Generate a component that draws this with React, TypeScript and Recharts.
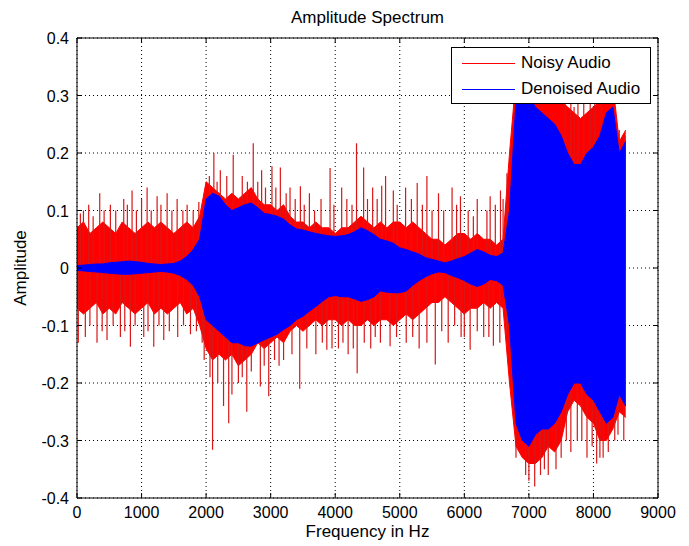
import React from "react";
import {
  ComposedChart,
  Area,
  Line,
  XAxis,
  YAxis,
  CartesianGrid,
  ReferenceArea,
} from "recharts";

// frequency grid of the envelopes (Hz)
const freqs = [
  0, 100, 200, 300, 400, 500, 600, 700, 800, 900,
  1000, 1100, 1200, 1300, 1400, 1500, 1600, 1700, 1800, 1900,
  2000, 2100, 2200, 2300, 2400, 2500, 2600, 2700, 2800, 2900,
  3000, 3100, 3200, 3300, 3400, 3500, 3600, 3700, 3800, 3900,
  4000, 4100, 4200, 4300, 4400, 4500, 4600, 4700, 4800, 4900,
  5000, 5100, 5200, 5300, 5400, 5500, 5600, 5700, 5800, 5900,
  6000, 6100, 6200, 6300, 6400, 6500, 6600, 6700, 6800, 6900,
  7000, 7100, 7200, 7300, 7400, 7500, 7600, 7700, 7800, 7900,
  8000, 8100, 8200, 8300, 8400, 8500,
];

// noisy audio: dense band top / bottom
const noisyHi = [
  0.07, 0.08, 0.06, 0.07, 0.08, 0.07, 0.06, 0.08, 0.07, 0.06,
  0.07, 0.08, 0.07, 0.08, 0.07, 0.06, 0.07, 0.08, 0.07, 0.09,
  0.15, 0.14, 0.13, 0.12, 0.13, 0.12, 0.13, 0.14, 0.12, 0.11,
  0.11, 0.1, 0.11, 0.09, 0.08, 0.08, 0.07, 0.08, 0.07, 0.07,
  0.06, 0.07, 0.07, 0.08, 0.09, 0.08, 0.07, 0.08, 0.07, 0.08,
  0.08, 0.07, 0.08, 0.07, 0.06, 0.05, 0.05, 0.04, 0.05, 0.06,
  0.06, 0.05, 0.06, 0.05, 0.05, 0.04, 0.05, 0.2, 0.33, 0.34,
  0.33, 0.35, 0.33, 0.32, 0.3, 0.29, 0.28, 0.27, 0.26, 0.27,
  0.28, 0.29, 0.33, 0.32, 0.22, 0.24,
];
const noisyLo = [
  -0.07, -0.08, -0.07, -0.06, -0.08, -0.07, -0.08, -0.06, -0.07, -0.08,
  -0.07, -0.06, -0.08, -0.07, -0.08, -0.07, -0.06, -0.08, -0.07, -0.1,
  -0.14, -0.16, -0.15, -0.16, -0.15, -0.17, -0.16, -0.15, -0.13, -0.14,
  -0.13, -0.12, -0.13, -0.11, -0.1, -0.11, -0.1, -0.09, -0.1, -0.09,
  -0.09, -0.1, -0.09, -0.1, -0.1, -0.09, -0.1, -0.09, -0.09, -0.1,
  -0.09, -0.08, -0.09, -0.08, -0.07, -0.06, -0.06, -0.05, -0.06, -0.07,
  -0.08, -0.07, -0.07, -0.06, -0.07, -0.06, -0.07, -0.2, -0.31, -0.33,
  -0.34, -0.34, -0.33, -0.31, -0.32, -0.3, -0.25, -0.23, -0.24, -0.26,
  -0.27, -0.3, -0.3, -0.28, -0.25, -0.26,
];

// denoised audio: band top / bottom
const denoisedHi = [
  0.004, 0.005, 0.006, 0.007, 0.007, 0.009, 0.01, 0.011, 0.012, 0.011,
  0.01, 0.008, 0.007, 0.006, 0.007, 0.008, 0.012, 0.02, 0.032, 0.05,
  0.12, 0.13, 0.125, 0.11, 0.1, 0.105, 0.11, 0.113, 0.105, 0.095,
  0.093, 0.09, 0.085, 0.075, 0.068, 0.066, 0.063, 0.06, 0.058, 0.056,
  0.055, 0.056, 0.058, 0.063, 0.07, 0.065, 0.058, 0.05, 0.047, 0.043,
  0.035, 0.032, 0.028, 0.024, 0.018, 0.015, 0.012, 0.009, 0.012, 0.016,
  0.02, 0.026, 0.032, 0.028, 0.022, 0.02, 0.026, 0.1, 0.29, 0.3,
  0.3, 0.28, 0.27, 0.26, 0.25, 0.23, 0.2, 0.18, 0.18, 0.2,
  0.21, 0.23, 0.27, 0.28, 0.2, 0.22,
];
const denoisedLo = [
  -0.004, -0.005, -0.006, -0.007, -0.008, -0.009, -0.01, -0.011, -0.011, -0.01,
  -0.009, -0.008, -0.007, -0.006, -0.007, -0.009, -0.013, -0.02, -0.03, -0.05,
  -0.09, -0.1, -0.11, -0.12, -0.13, -0.13, -0.135, -0.136, -0.13, -0.125,
  -0.12, -0.115, -0.107, -0.1, -0.09, -0.084, -0.075, -0.067, -0.058, -0.05,
  -0.048, -0.05, -0.05, -0.054, -0.058, -0.055, -0.05, -0.04, -0.042, -0.043,
  -0.043, -0.04, -0.03, -0.022, -0.015, -0.01, -0.007, -0.008, -0.013, -0.017,
  -0.022, -0.028, -0.032, -0.028, -0.02, -0.022, -0.03, -0.1, -0.27, -0.3,
  -0.31, -0.29, -0.28, -0.28, -0.27, -0.25, -0.22, -0.2, -0.2, -0.22,
  -0.23, -0.25, -0.27, -0.26, -0.22, -0.24,
];

// isolated noisy peaks above the band
const upperSpikeFreqs = [
  52, 100, 181, 250, 352, 420, 517, 600, 724, 780, 853, 920, 1000, 1086,
  1150, 1241, 1300, 1396, 1470, 1551, 1640, 1706, 1800, 1887,
  2050, 2120, 2170, 2220, 2320, 2420, 2560, 2640, 2730, 2800, 2860, 2920,
  3020, 3080, 3150, 3240, 3300, 3380, 3460, 3520, 3600, 3680, 3780, 3920,
  3980, 4100, 4180, 4260, 4330, 4440, 4500, 4580, 4650, 4720, 4780, 4900,
  4960, 5090, 5180, 5270, 5350, 5420, 5500, 5600, 5680, 5810, 5880, 5940,
  6060, 6140, 6200, 6350, 6400, 6480, 6560, 6600, 6660,
  7560, 7650, 7700, 7760, 7850, 7950, 8020, 8120, 8400, 8490,
];
const upperSpikeValues = [
  0.095, 0.1, 0.11, 0.09, 0.13, 0.1, 0.11, 0.1, 0.12, 0.11, 0.135, 0.1, 0.12, 0.14,
  0.1, 0.125, 0.11, 0.13, 0.1, 0.12, 0.1, 0.11, 0.1, 0.115,
  0.16, 0.2, 0.15, 0.17, 0.16, 0.197, 0.16, 0.15, 0.217, 0.15, 0.17, 0.14,
  0.177, 0.14, 0.175, 0.13, 0.14, 0.12, 0.142, 0.11, 0.13, 0.1, 0.12, 0.174,
  0.11, 0.14, 0.12, 0.11, 0.217, 0.175, 0.12, 0.14, 0.12, 0.143, 0.16, 0.135,
  0.11, 0.14, 0.12, 0.148, 0.11, 0.16, 0.1, 0.13, 0.1, 0.14, 0.11, 0.125,
  0.1, 0.09, 0.12, 0.1, 0.125, 0.11, 0.135, 0.12, 0.165,
  0.29, 0.3, 0.28, 0.29, 0.29, 0.31, 0.3, 0.3, 0.24, 0.23,
];

// isolated noisy peaks below the band
const lowerSpikeFreqs = [
  20, 129, 200, 310, 390, 465, 560, 672, 740, 827, 900, 1034, 1100, 1189,
  1270, 1344, 1430, 1560, 1650, 1758, 1850, 1939, 1970,
  2060, 2100, 2180, 2270, 2350, 2400, 2500, 2560, 2630, 2700, 2840, 2900,
  2970, 3060, 3130, 3200, 3330, 3450, 3560, 3700, 3800, 3870, 3950, 4050,
  4120, 4200, 4280, 4340, 4450, 4550, 4620, 4700, 4850, 4950, 5100, 5200,
  5300, 5420, 5550, 5650, 5750, 5850, 5950, 6000, 6090, 6200, 6300, 6380,
  6450, 6550, 6650,
  6800, 6950, 7000, 7090, 7180, 7240, 7300, 7420, 7500, 7580, 7650, 7750,
  7820, 7900, 7980, 8050, 8100, 8150, 8230, 8330, 8380, 8470,
];
const lowerSpikeValues = [
  -0.13, -0.12, -0.1, -0.13, -0.11, -0.125, -0.1, -0.12, -0.11, -0.137, -0.1, -0.12, -0.11, -0.137,
  -0.1, -0.125, -0.11, -0.12, -0.1, -0.115, -0.11, -0.13, -0.16,
  -0.19, -0.316, -0.2, -0.24, -0.27, -0.22, -0.2, -0.19, -0.25, -0.18, -0.206, -0.17,
  -0.223, -0.16, -0.17, -0.16, -0.15, -0.21, -0.14, -0.15, -0.13, -0.142, -0.14, -0.14,
  -0.13, -0.15, -0.14, -0.183, -0.13, -0.14, -0.12, -0.13, -0.136, -0.12, -0.13, -0.12,
  -0.14, -0.13, -0.168, -0.11, -0.13, -0.1, -0.12, -0.12, -0.142, -0.11, -0.12, -0.12,
  -0.135, -0.13, -0.11,
  -0.33, -0.36, -0.37, -0.38, -0.36, -0.35, -0.36, -0.35, -0.33, -0.3, -0.32, -0.3,
  -0.3, -0.33, -0.31, -0.34, -0.33, -0.33, -0.32, -0.3, -0.29, -0.3,
];

const xTicks = [0, 1000, 2000, 3000, 4000, 5000, 6000, 7000, 8000, 9000];
const yTicks = [-0.4, -0.3, -0.2, -0.1, 0, 0.1, 0.2, 0.3, 0.4];

const legendItems = [
  { label: "Noisy Audio", color: "#ff0000" },
  { label: "Denoised Audio", color: "#0000ff" },
];

const W = 689;
const H = 546;
const PLOT_TOP = 38;
const PLOT_BOTTOM = 498;
const PLOT_LEFT = 77;
const PLOT_RIGHT = 658;
const FONT = "'Liberation Sans', Arial, Helvetica, sans-serif";

type Row = {
  f: number;
  nHi?: number;
  nLo?: number;
  dHi?: number;
  dLo?: number;
  spk?: number;
};

const rows: Row[] = [];
freqs.forEach((f, i) =>
  rows.push({ f, nHi: noisyHi[i], nLo: noisyLo[i], dHi: denoisedHi[i], dLo: denoisedLo[i] })
);
// each peak becomes a vertical stroke out of the zero line and back
const addSpike = (f: number, v: number) => rows.push({ f, spk: 0 }, { f, spk: v }, { f, spk: 0 });
upperSpikeFreqs.forEach((f, i) => addSpike(f, upperSpikeValues[i]));
lowerSpikeFreqs.forEach((f, i) => addSpike(f, lowerSpikeValues[i]));
rows.sort((a, b) => a.f - b.f);

const noisyRange = (r: Row) => (r.nHi === undefined ? [null, null] : [r.nLo, r.nHi]);
const denoisedRange = (r: Row) => (r.dHi === undefined ? [null, null] : [r.dLo, r.dHi]);

function XTick(props: any) {
  const { x, y, payload } = props;
  return (
    <g>
      <line x1={x} x2={x} y1={PLOT_BOTTOM} y2={PLOT_BOTTOM - 5} stroke="#000" />
      <line x1={x} x2={x} y1={PLOT_TOP} y2={PLOT_TOP + 5} stroke="#000" />
      <text x={x} y={y} dy={20} textAnchor="middle" fontSize={16} fontFamily={FONT} fill="#000">
        {payload.value}
      </text>
    </g>
  );
}

function YTick(props: any) {
  const { x, y, payload } = props;
  return (
    <g>
      <line x1={PLOT_LEFT} x2={PLOT_LEFT + 5} y1={y} y2={y} stroke="#000" />
      <line x1={PLOT_RIGHT} x2={PLOT_RIGHT - 5} y1={y} y2={y} stroke="#000" />
      <text x={x} y={y} dx={-8} dy={6} textAnchor="end" fontSize={16} fontFamily={FONT} fill="#000">
        {payload.value}
      </text>
    </g>
  );
}

export default function App() {
  return (
    <div
      style={{
        position: "absolute",
        left: 0,
        top: 0,
        width: W,
        height: H,
        background: "#fff",
        fontFamily: FONT,
      }}
    >
      <div
        style={{
          position: "absolute",
          left: PLOT_LEFT,
          width: PLOT_RIGHT - PLOT_LEFT,
          top: 8,
          lineHeight: "20px",
          fontSize: 17,
          textAlign: "center",
          color: "#000",
        }}
      >
        Amplitude Spectrum
      </div>
      <ComposedChart
        width={W}
        height={H}
        data={rows}
        margin={{ top: PLOT_TOP, right: W - PLOT_RIGHT, bottom: 8, left: 17 }}
      >
        <CartesianGrid stroke="#000" strokeDasharray="1 3" />
        <XAxis
          type="number"
          dataKey="f"
          domain={[0, 9000]}
          ticks={xTicks}
          height={40}
          tickSize={0}
          tickMargin={0}
          tickLine={false}
          axisLine={false}
          tick={<XTick />}
          label={{ value: "Frequency in Hz", position: "center", dy: 13, fontSize: 17, fill: "#000", fontFamily: FONT }}
        />
        <YAxis
          type="number"
          domain={[-0.4, 0.4]}
          ticks={yTicks}
          width={60}
          tickSize={0}
          tickMargin={0}
          tickLine={false}
          axisLine={false}
          tick={<YTick />}
          label={{
            value: "Amplitude",
            angle: -90,
            position: "insideLeft",
            offset: 3,
            fontSize: 17,
            fill: "#000",
            fontFamily: FONT,
            style: { textAnchor: "middle" },
          }}
        />
        <Area
          dataKey={noisyRange}
          type="linear"
          stroke="#ff0000"
          strokeWidth={1}
          fill="#ff0000"
          fillOpacity={1}
          connectNulls
          dot={false}
          activeDot={false}
          isAnimationActive={false}
          zIndex={100}
        />
        <Line
          dataKey="spk"
          type="linear"
          stroke="#d81818"
          strokeWidth={1.2}
          connectNulls
          dot={false}
          activeDot={false}
          isAnimationActive={false}
          zIndex={150}
        />
        <Area
          dataKey={denoisedRange}
          type="linear"
          stroke="#0000ff"
          strokeWidth={1}
          fill="#0000ff"
          fillOpacity={1}
          connectNulls
          dot={false}
          activeDot={false}
          isAnimationActive={false}
          zIndex={200}
        />
        <ReferenceArea
          x1={0}
          x2={9000}
          y1={-0.4}
          y2={0.4}
          fill="none"
          stroke="#000"
          strokeWidth={1}
          zIndex={700}
        />
      </ComposedChart>
      <div
        style={{
          position: "absolute",
          left: 451,
          top: 47,
          width: 198,
          height: 55,
          border: "1px solid #000",
          background: "#fff",
        }}
      >
        {legendItems.map((it, i) => (
          <div
            key={it.label}
            style={{
              position: "absolute",
              left: 10,
              top: 5 + i * 26,
              height: 20,
              display: "flex",
              alignItems: "center",
              whiteSpace: "nowrap",
            }}
          >
            <div style={{ width: 53, height: 0, borderTop: `1px solid ${it.color}` }} />
            <span style={{ marginLeft: 6, fontSize: 17, color: "#000" }}>{it.label}</span>
          </div>
        ))}
      </div>
    </div>
  );
}
